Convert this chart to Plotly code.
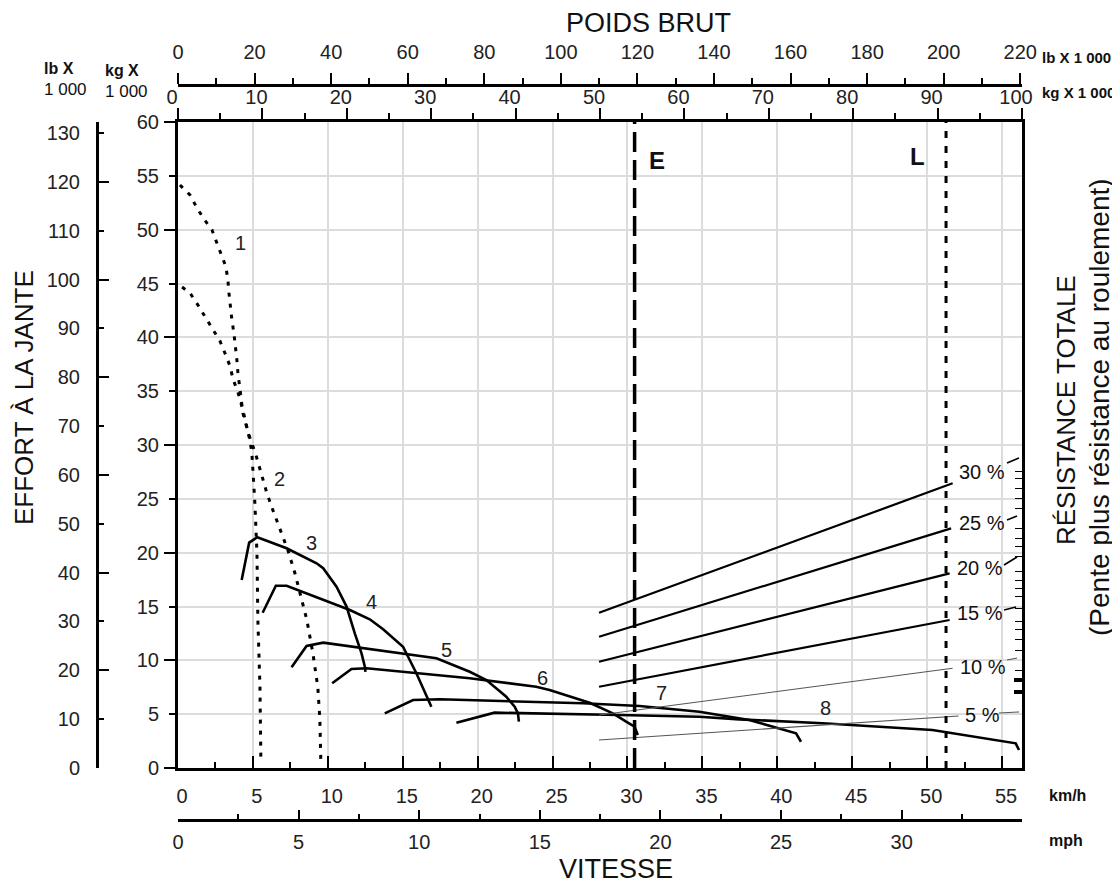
import plotly.graph_objects as go

# page has an 8px body margin: the figure is drawn 8px in from the window corner
OFF = 8
W, H = 1120 - OFF, 884 - OFF
FONT = "Liberation Sans, Arial, Helvetica, sans-serif"

# ---------------- data (speed km/h, rimpull kg x 1000) ----------------
gear1_kmh = [0.13, 0.80, 1.27, 1.73, 2.27, 2.87, 3.20, 3.33, 3.40, 3.60, 3.73, 3.93, 4.00,
             4.20, 4.33, 4.60, 4.80, 4.93, 5.13, 5.27, 5.33, 5.47, 5.53]
gear1_kg = [54.15, 53.22, 52.01, 50.99, 49.97, 47.83, 46.53, 45.32, 44.12, 41.61, 40.40, 37.89, 36.69,
            34.46, 32.97, 31.58, 30.46, 29.26, 24.61, 19.97, 13.75, 7.52, 0.74]

gear2_kmh = [0.27, 0.80, 1.33, 1.87, 2.33, 2.80, 3.13, 3.47, 3.67, 4.00, 4.33, 4.67, 5.20, 5.47,
             5.93, 6.33, 6.93, 7.33, 7.80, 8.27, 8.60, 9.00, 9.33, 9.47, 9.53]
gear2_kg = [44.67, 44.12, 43.00, 41.79, 40.77, 39.66, 38.54, 37.34, 36.13, 34.92, 33.25, 31.21, 29.07, 27.68,
            25.54, 23.96, 21.83, 20.25, 18.11, 15.60, 13.75, 10.68, 7.52, 4.46, 0.74]

gear3_kmh = [4.25, 4.75, 5.29, 7.25, 9.25, 9.69, 10.58, 11.25, 11.80, 12.25, 12.47, 12.51]
gear3_kg = [17.46, 20.93, 21.43, 20.41, 19.01, 18.55, 16.84, 14.99, 12.51, 10.65, 9.41, 8.92]

gear4_kmh = [5.65, 6.53, 7.25, 11.47, 12.80, 13.69, 15.02, 15.91, 16.91]
gear4_kg = [14.42, 16.93, 16.93, 14.67, 13.81, 12.88, 11.26, 8.80, 5.69]

gear5_kmh = [7.58, 8.58, 9.69, 12.80, 17.25, 19.47, 20.58, 21.91, 22.47, 22.69, 22.75]
gear5_kg = [9.35, 11.33, 11.64, 11.02, 10.19, 8.94, 8.17, 6.62, 5.69, 5.08, 4.30]

gear6_kmh = [10.29, 11.58, 12.58, 19.47, 23.91, 24.80, 27.47, 29.02, 29.91, 30.47, 30.69]
gear6_kg = [7.87, 9.19, 9.26, 8.33, 7.55, 7.24, 6.06, 5.08, 4.30, 3.84, 3.06]

gear7_kmh = [13.80, 15.69, 17.47, 27.02, 30.80, 34.80, 38.13, 40.35, 41.25, 41.58]
gear7_kg = [5.08, 6.32, 6.38, 6.01, 5.76, 5.23, 4.46, 3.53, 3.22, 2.44]

gear8_kmh = [18.58, 21.13, 29.47, 34.80, 37.47, 43.02, 50.35, 55.91, 56.13]
gear8_kg = [4.21, 5.14, 4.92, 4.76, 4.52, 4.15, 3.53, 2.29, 1.67]

gears = [
    (gear1_kmh, gear1_kg, "dot"),
    (gear2_kmh, gear2_kg, "dot"),
    (gear3_kmh, gear3_kg, "solid"),
    (gear4_kmh, gear4_kg, "solid"),
    (gear5_kmh, gear5_kg, "solid"),
    (gear6_kmh, gear6_kg, "solid"),
    (gear7_kmh, gear7_kg, "solid"),
    (gear8_kmh, gear8_kg, "solid"),
]
gear_names = ["1", "2", "3", "4", "5", "6", "7", "8"]
gear_label_kmh = [4.2, 6.8, 8.9, 12.9, 17.9, 24.3, 32.3, 43.2]
gear_label_kg = [48.8, 26.8, 20.9, 15.4, 11.0, 8.4, 7.0, 5.6]

# total resistance lines (grade %), main segment start / end in (km/h, kg x 1000)
grades = ["30 %", "25 %", "20 %", "15 %", "10 %", "5 %"]
grade_x0 = [28.1, 28.1, 28.1, 28.1, 28.1, 28.1]
grade_x1 = [51.7, 51.6, 51.5, 51.5, 51.7, 52.1]
grade_y0 = [14.42, 12.19, 9.87, 7.55, 4.92, 2.60]
grade_y1 = [26.44, 22.26, 18.08, 13.75, 9.26, 4.83]
# short continuation of each grade line past its label, up to the right edge
grade_tail_x0 = [55.33, 55.33, 55.13, 55.13, 55.33, 54.80]
grade_tail_x1 = [56.13, 56.00, 56.00, 55.93, 56.00, 56.13]
grade_tail_y0 = [28.33, 23.03, 18.85, 14.67, 10.03, 5.11]
grade_tail_y1 = [28.80, 23.40, 19.60, 14.95, 10.22, 5.20]
grade_bold = [True, True, True, True, False, False]
grade_label_px = [(982, 472), (982, 523), (980, 568), (980, 613), (983, 667), (982, 715)]

# gross weight markers (kg x 1000): E = empty, L = loaded
weight_E = 54.1
weight_L = 91.0

# right-edge grade scale ticks (kg x 1000)
right_ticks = [27.52, 26.91, 25.98, 25.05, 24.12, 22.26, 21.33, 20.55, 19.62, 18.23, 17.46,
               16.69, 15.91, 14.83, 13.59, 12.82, 11.89, 10.96, 9.10]
right_ticks_bold = [8.17, 7.09]

KMH_MAX = 56.33
MPH_MAX = 34.99
KG_MAX = 60.0
LB_MAX = KG_MAX * 2.20462
WKG_MAX = 100.0
WLB_MAX = WKG_MAX * 2.20462


# ---------------- geometry (reference-window pixels -> paper) ----------------
def px(x):
    return (x - OFF) / W


def py(y):
    return 1 - (y - OFF) / H


dom_x = [px(178), px(1022)]
dom_y = [py(768), py(122)]

tickfont = dict(family=FONT, size=20, color="#222")
blk = "black"

fig = go.Figure()

for (xs, ys, style) in gears:
    fig.add_trace(go.Scatter(
        x=xs, y=ys, mode="lines", xaxis="x", yaxis="y",
        line=dict(color=blk, width=3 if style == "dot" else 2.6,
                  dash="4px,7px" if style == "dot" else "solid"),
        showlegend=False, hoverinfo="skip"))

for i, g in enumerate(grades):
    style = dict(color=blk if grade_bold[i] else "#555", width=2.2 if grade_bold[i] else 1.1)
    fig.add_trace(go.Scatter(
        x=[grade_x0[i], grade_x1[i]], y=[grade_y0[i], grade_y1[i]], mode="lines",
        line=style, showlegend=False, hoverinfo="skip"))
    fig.add_trace(go.Scatter(
        x=[grade_tail_x0[i], grade_tail_x1[i]], y=[grade_tail_y0[i], grade_tail_y1[i]], mode="lines",
        line=dict(color=blk if grade_bold[i] else "#555", width=1.6 if grade_bold[i] else 1.1),
        showlegend=False, hoverinfo="skip", cliponaxis=False))

# E and L vertical lines on the gross-weight axis
fig.add_trace(go.Scatter(x=[weight_E, weight_E], y=[0, KG_MAX], xaxis="x3", yaxis="y", mode="lines",
                         line=dict(color=blk, width=3.5, dash="20px,8px"),
                         showlegend=False, hoverinfo="skip"))
fig.add_trace(go.Scatter(x=[weight_L, weight_L], y=[0, KG_MAX], xaxis="x3", yaxis="y", mode="lines",
                         line=dict(color=blk, width=3, dash="7px,8px"),
                         showlegend=False, hoverinfo="skip"))

# empty traces so that every auxiliary axis is instantiated
for xa, ya in [("x2", "y"), ("x4", "y"), ("x", "y2"), ("x", "y3"), ("x", "y4"), ("x", "y5"), ("x", "y6")]:
    fig.add_trace(go.Scatter(x=[None], y=[None], xaxis=xa, yaxis=ya, mode="lines",
                             showlegend=False, hoverinfo="skip"))

line_kw = dict(showline=True, linecolor=blk, linewidth=3, zeroline=False)

fig.update_layout(
    width=W, height=H, template="none",
    paper_bgcolor="white", plot_bgcolor="white",
    margin=dict(l=0, r=0, t=0, b=0, pad=0),
    showlegend=False,
    xaxis=dict(domain=dom_x, range=[0, KMH_MAX], anchor="y", side="bottom", **line_kw,
               ticks="inside", ticklen=12, tickwidth=2, tickcolor=blk, tick0=0, dtick=5,
               minor=dict(dtick=2.5, tick0=0, ticks="inside", ticklen=6, tickwidth=2, tickcolor=blk, showgrid=False),
               showgrid=True, gridcolor="#dcdcdc", gridwidth=1.5,
               tickfont=tickfont, ticklabelstandoff=8, ticklabelshift=4),
    xaxis2=dict(overlaying="x", anchor="free", position=py(820), side="bottom", range=[0, MPH_MAX], **line_kw,
                ticks="inside", ticklen=9, tickwidth=2, tickcolor=blk, tick0=0, dtick=5,
                minor=dict(dtick=2.5, tick0=0, ticks="inside", ticklen=5, tickwidth=2, tickcolor=blk, showgrid=False),
                showgrid=False, tickfont=tickfont, ticklabelstandoff=3),
    xaxis3=dict(overlaying="x", anchor="y", side="top", range=[0, WKG_MAX], **line_kw,
                ticks="outside", ticklen=11, tickwidth=2, tickcolor=blk, tick0=0, dtick=10,
                minor=dict(dtick=5, tick0=0, ticks="outside", ticklen=6, tickwidth=2, tickcolor=blk, showgrid=False),
                showgrid=False, tickfont=tickfont, ticklabelshift=-6, ticklabelstandoff=-4),
    xaxis4=dict(overlaying="x", anchor="free", position=py(85), side="top", range=[0, WLB_MAX], **line_kw,
                ticks="outside", ticklen=11, tickwidth=2, tickcolor=blk, tick0=0, dtick=20,
                minor=dict(dtick=10, tick0=0, ticks="outside", ticklen=6, tickwidth=2, tickcolor=blk, showgrid=False),
                showgrid=False, tickfont=tickfont, ticklabelstandoff=6),
    yaxis=dict(domain=dom_y, range=[0, KG_MAX], anchor="x", side="left", **line_kw,
               ticks="outside", ticklen=6, tickwidth=2, tickcolor=blk, tick0=0, dtick=5,
               showgrid=True, gridcolor="#dcdcdc", gridwidth=1.5,
               tickfont=tickfont, ticklabelstandoff=6),
    yaxis3=dict(overlaying="y", anchor="x", side="left", range=[0, KG_MAX], showline=False, zeroline=False,
                ticks="outside", ticklen=13, tickwidth=2, tickcolor=blk, tick0=0, dtick=10,
                showticklabels=False, showgrid=False),
    yaxis2=dict(overlaying="y", anchor="free", position=px(97), side="left", range=[0, LB_MAX], **line_kw,
                ticks="inside", ticklen=5, tickwidth=2, tickcolor=blk, tick0=0, dtick=10,
                showgrid=False, tickfont=tickfont, ticklabelstandoff=12),
    yaxis4=dict(overlaying="y", anchor="free", position=px(97), side="left", range=[0, LB_MAX],
                showline=False, zeroline=False,
                ticks="inside", ticklen=11, tickwidth=2, tickcolor=blk, tick0=0, dtick=20,
                showticklabels=False, showgrid=False),
    yaxis5=dict(overlaying="y", anchor="x", side="right", range=[0, KG_MAX], **line_kw,
                ticks="inside", ticklen=7, tickwidth=1.3, tickcolor=blk,
                tickmode="array", tickvals=right_ticks, showticklabels=False, showgrid=False),
    yaxis6=dict(overlaying="y", anchor="x", side="right", range=[0, KG_MAX], showline=False, zeroline=False,
                ticks="inside", ticklen=8, tickwidth=3.5, tickcolor=blk,
                tickmode="array", tickvals=right_ticks_bold, showticklabels=False, showgrid=False),
)

ann = []
for i, n in enumerate(gear_names):
    ann.append(dict(x=gear_label_kmh[i], y=gear_label_kg[i], xref="x", yref="y", text=n, showarrow=False,
                    xanchor="center", yanchor="middle",
                    font=dict(family=FONT, size=20, color="#222")))

for g, (gx, gy) in zip(grades, grade_label_px):
    ann.append(dict(x=px(gx), y=py(gy), xref="paper", yref="paper", text=g, showarrow=False,
                    xanchor="center", yanchor="middle",
                    font=dict(family=FONT, size=20, color="#111")))


def text(x, y, t, size, bold=False, angle=0, xanchor="center"):
    ann.append(dict(x=px(x), y=py(y), xref="paper", yref="paper", text=f"<b>{t}</b>" if bold else t,
                    showarrow=False, textangle=angle, xanchor=xanchor, yanchor="middle",
                    font=dict(family=FONT, size=size, color="#111")))


text(648, 23, "POIDS BRUT", 27)
text(616, 869, "VITESSE", 27)
text(24, 398, "EFFORT À LA JANTE", 26, angle=-90)
text(1066, 410, "RÉSISTANCE TOTALE", 26, angle=-90)
text(1100, 407, "(Pente plus résistance au roulement)", 28, angle=-90)
text(59, 68, "lb X", 16, bold=True)
text(65, 90, "1 000", 17)
text(122, 70, "kg X", 16, bold=True)
text(126, 92, "1 000", 17)
text(1040, 57, "lb X 1 000", 15, bold=True, xanchor="left")
text(1040, 93, "kg X 1 000", 15, bold=True, xanchor="left")
text(1067, 795, "km/h", 16, bold=True)
text(1066, 840, "mph", 16, bold=True)
text(657, 160, "E", 24, bold=True)
text(917, 157, "L", 24, bold=True)

fig.update_layout(annotations=ann)
fig.write_html("out.html")
